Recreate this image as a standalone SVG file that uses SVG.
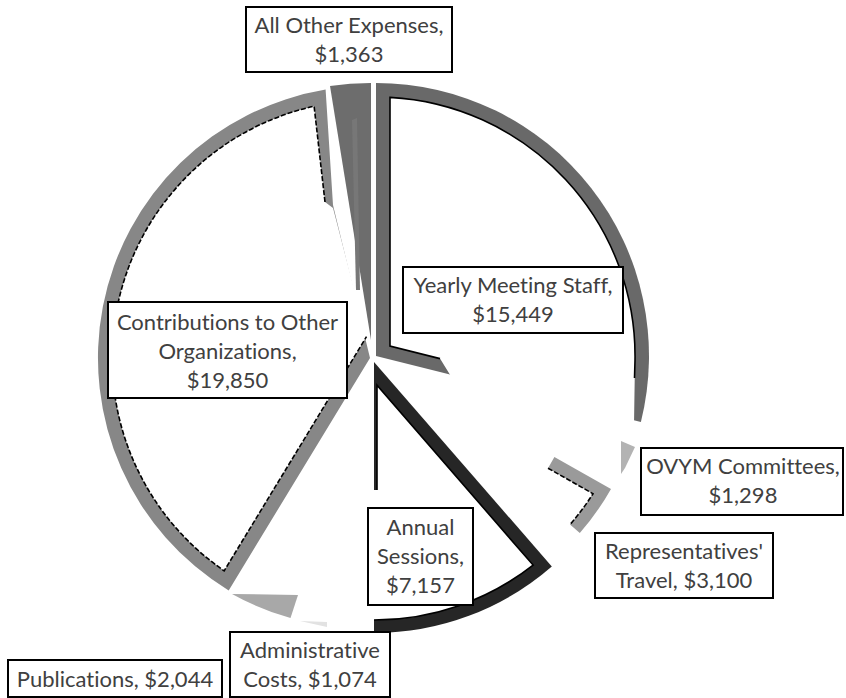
<svg xmlns="http://www.w3.org/2000/svg" width="846" height="698" viewBox="0 0 846 698">
<style>
.box{fill:#fff;stroke:#000;stroke-width:2}
.lbl{font-family:Lato,"Liberation Sans",sans-serif;font-size:22px;fill:#404040;text-anchor:middle;font-variant-ligatures:none;font-feature-settings:"liga" 0}
.inner{fill:none;stroke:#000;stroke-width:1.6}
.dash{stroke-dasharray:5 2}
.white{fill:#fff}
</style>
<rect width="846" height="698" fill="#fff"/>
<g id="slice-contributions">
<path d="M370,358 L228.7,590.4 A272 272 0 0 1 325.6,89.6 L333,205 Z" fill="#878787"/>
<path class="white" d="M366.5,336.7 L224.2,570.8 A258 258 0 0 1 314.1,106.2 L325,202 L333,208 L373,362 Z"/>
<path class="inner dash" d="M325,202 L314.1,106.2 A258 258 0 0 0 224.2,570.8 L366.5,336.7"/>
</g>
<g id="slice-all-other">
<path d="M371,340 L330,86 A273 273 0 0 1 371,83 Z" fill="#6d6d6d"/>
<path d="M352,120 L357,118 L360,290 L356,290 Z" fill="#777777"/>
</g>
<g id="slice-yearly-meeting-staff">
<path d="M376,356 L376,83 A273 273 0 0 1 640.9,422 Z" fill="#696969"/>
<path class="white" d="M390,346.1 L440,358.6 L452,378 L634,424 L635,360.5 A259 259 0 0 0 390,97.4 Z"/>
<path class="inner" d="M440,358.6 L390,346.1 L390,97.4 A259 259 0 0 1 635,360.5 L634.5,378"/>
</g>
<g id="slice-annual-sessions">
<path d="M374,362 L551.8,566.5 A271 271 0 0 1 374,633 Z" fill="#262626"/>
<path class="white" d="M377,385.2 L533.1,565.1 A258 258 0 0 1 374,620 L374,490 L377,490 Z"/>
<path class="inner" stroke-width="2" d="M377,490 L377,385.2 L533.1,565.1 A258 258 0 0 1 374,620"/>
</g>
<g id="slice-representatives-travel">
<path d="M554.4,456.9 L611,488.9 A270 270 0 0 1 579.8,533.1 L570,524.6 A257 257 0 0 0 593,493.7 L548,468.2 Z" fill="#9a9a9a"/>
<path class="inner dash" stroke-dasharray="2 1.5" d="M548,468.2 L593,493.7 A257 257 0 0 1 570,524.6"/>
</g>
<g id="slice-ovym-committees">
<path d="M621,441 L635,447 L625,468 L621,474 Z" fill="#b3b3b3"/>
</g>
<g id="slice-publications">
<path d="M232,594 L298,595 L290.5,618.1 A272 272 0 0 1 232,594 Z" fill="#a8a8a8"/>
</g>
<g id="slice-administrative-costs">
<path d="M300,621 L327,622 L327,627 Z" fill="#e2e2e2"/>
</g>
<g id="label-all-other">
<rect class="box" x="246" y="7" width="206" height="65"/>
<text class="lbl" x="349" y="33">All Other Expenses,</text>
<text class="lbl" x="349" y="62">$1,363</text>
</g>
<g id="label-yearly-meeting-staff">
<rect class="box" x="403" y="267" width="220" height="66"/>
<text class="lbl" x="513" y="293">Yearly Meeting Staff,</text>
<text class="lbl" x="513" y="322">$15,449</text>
</g>
<g id="label-contributions">
<rect class="box" x="108" y="302" width="239" height="96"/>
<text class="lbl" x="227.5" y="330">Contributions to Other</text>
<text class="lbl" x="227.5" y="359">Organizations,</text>
<text class="lbl" x="227.5" y="388">$19,850</text>
</g>
<g id="label-ovym">
<rect class="box" x="641" y="448" width="202" height="67"/>
<text class="lbl" x="743" y="474">OVYM Committees,</text>
<text class="lbl" x="743" y="503">$1,298</text>
</g>
<g id="label-representatives">
<rect class="box" x="595" y="533" width="178" height="65"/>
<text class="lbl" x="684" y="559">Representatives'</text>
<text class="lbl" x="684" y="588">Travel, $3,100</text>
</g>
<g id="label-annual-sessions">
<rect class="box" x="368" y="508" width="105" height="97"/>
<text class="lbl" x="420.5" y="535">Annual</text>
<text class="lbl" x="420.5" y="564">Sessions,</text>
<text class="lbl" x="420.5" y="593">$7,157</text>
</g>
<g id="label-administrative">
<rect class="box" x="230" y="632" width="160" height="65"/>
<text class="lbl" x="310" y="658">Administrative</text>
<text class="lbl" x="310" y="687">Costs, $1,074</text>
</g>
<g id="label-publications">
<rect class="box" x="8" y="660" width="214" height="37"/>
<text class="lbl" x="115" y="687">Publications, $2,044</text>
</g>
</svg>
